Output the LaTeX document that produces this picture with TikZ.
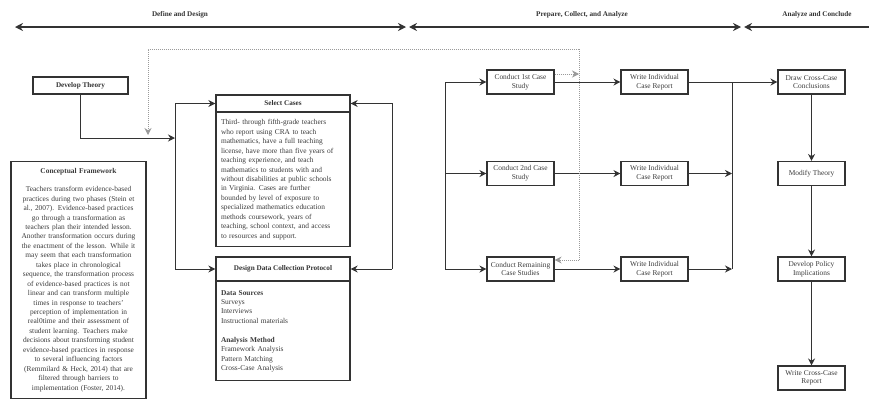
\documentclass[tikz,border=0pt]{standalone}
\usepackage{fontspec}
\setmainfont{Liberation Serif}
\usetikzlibrary{arrows.meta}
\definecolor{fdline}{HTML}{333333}
\definecolor{fdtext}{HTML}{3A3A3A}
\definecolor{fddot}{HTML}{9A9A9A}
\tikzset{
  box/.style={draw=fdline, line width=1.1pt, inner sep=1pt, minimum width=67pt,
    minimum height=24pt, align=center, text=fdtext, font=\fontsize{7.4}{8.6}\selectfont},
  headbox/.style={draw=fdline, line width=1.3pt, inner sep=0pt, minimum height=17pt,
    text=fdline, font=\fontsize{7.2}{8.6}\selectfont\bfseries},
  textbox/.style={draw=fdline, line width=1.3pt, inner xsep=5pt, text=fdtext,
    font=\fontsize{7.4}{9.45}\selectfont},
  conn/.style={draw=fdline, line width=1pt},
  arr/.style={conn, -{Stealth[length=7pt,width=7pt]}},
  dotline/.style={draw=fddot, line width=0.9pt, dash pattern=on 1pt off 1pt},
  dotarr/.style={dotline, -{Stealth[length=7pt,width=7pt]}},
  phase/.style={draw=fdline, line width=1.4pt,
    {Stealth[length=8pt,width=8pt]}-{Stealth[length=8pt,width=8pt]}},
  phaseopen/.style={draw=fdline, line width=1.4pt, {Stealth[length=8pt,width=8pt]}-},
  phaselabel/.style={text=fdline, font=\fontsize{7.2}{8}\selectfont\bfseries},
}
\begin{document}
\begin{tikzpicture}[x=1pt, y=-1pt]
    \useasboundingbox (0,0) rectangle (869,400);
    % fases
    \coordinate (p0) at (15,27);
    \coordinate (p1a) at (406,27);
    \coordinate (p1b) at (409,27);
    \coordinate (p2a) at (741,27);
    \coordinate (p2b) at (744,27);
    \coordinate (p3) at (869,27);
    \draw[phase] (p0) -- (p1a);
    \draw[phase] (p1b) -- (p2a);
    \draw[phaseopen] (p2b) -- (p3);
    \node[phaselabel] (ph1) at (180,15) {Define and Design};
    \node[phaselabel] (ph2) at (582,15) {Prepare, Collect, and Analyze};
    \node[phaselabel] (ph3) at (817,15) {Analyze and Conclude};
    % teoria e quadro conceitual
    \node[headbox, minimum width=95pt] (theory) at (80.5,85.5) {Develop Theory};
    \node[textbox, anchor=north, text width=125pt, minimum height=237pt, align=center]
      (cframe) at (78.5,161) {{\bfseries Conceptual Framework}\\[8.5pt]
      Teachers transform evidence-based\\
      practices during two phases (Stein et\\
      al., 2007). Evidence-based practices\\
      go through a transformation as\\
      teachers plan their intended lesson.\\
      Another transformation occurs during\\
      the enactment of the lesson. While it\\
      may seem that each transformation\\
      takes place in chronological\\
      sequence, the transformation process\\
      of evidence-based practices is not\\
      linear and can transform multiple\\
      times in response to teachers'\\
      perception of implementation in\\
      real0time and their assessment of\\
      student learning. Teachers make\\
      decisions about transforming student\\
      evidence-based practices in response\\
      to several influencing factors\\
      (Remmilard \& Heck, 2014) that are\\
      filtered through barriers to\\
      implementation (Foster, 2014).};
    % selecao de casos
    \node[headbox, minimum width=134pt] (selhead) at (283,103.5) {Select Cases};
    \node[textbox, anchor=north, text width=124pt, minimum height=134pt, align=left]
      (selbody) at (283,112) {Third- through fifth-grade teachers\\
      who report using CRA to teach\\
      mathematics, have a full teaching\\
      license, have more than five years of\\
      teaching experience, and teach\\
      mathematics to students with and\\
      without disabilities at public schools\\
      in Virginia. Cases are further\\
      bounded by level of exposure to\\
      specialized mathematics education\\
      methods coursework, years of\\
      teaching, school context, and access\\
      to resources and support.};
    % protocolo
    \node[headbox, minimum width=134pt, minimum height=24pt] (deshead) at (283,269)
      {Design Data Collection Protocol};
    \node[textbox, anchor=north, text width=124pt, minimum height=99pt, align=left]
      (desbody) at (283,281) {{\bfseries Data Sources}\\
      Surveys\\
      Interviews\\
      Instructional materials\\[9.45pt]
      {\bfseries Analysis Method}\\
      Framework Analysis\\
      Pattern Matching\\
      Cross-Case Analysis};
    % barras laterais
    \coordinate (lbx) at (175,0);
    \coordinate (rbx) at (392,0);
    \coordinate (lbin) at (175,138);
    \draw[arr] (theory.south) |- (lbin);
    \draw[arr] (lbx |- deshead.west) -- (lbx |- selhead.west) -- (selhead.west);
    \draw[arr] (lbx |- deshead.west) -- (deshead.west);
    \draw[arr] (rbx |- deshead.east) -- (rbx |- selhead.east) -- (selhead.east);
    \draw[arr] (rbx |- deshead.east) -- (deshead.east);
    % estudos de caso e relatorios
    \foreach \n/\y/\case in {1/82/{Conduct 1st Case\\Study}, 2/173.5/{Conduct 2nd Case\\Study},
      3/269/{Conduct Remaining\\Case Studies}} {
      \node[box] (case\n) at (520.5,\y) {\case};
      \node[box] (rep\n) at (654.5,\y) {Write Individual\\Case Report};
      \draw[arr] (case\n) -- (rep\n);
    }
    \coordinate (mbx) at (445,0);
    \draw[arr] (mbx |- case3.west) -- (mbx |- case1.west) -- (case1.west);
    \draw[arr] (mbx |- case2.west) -- (case2.west);
    \draw[arr] (mbx |- case3.west) -- (case3.west);
    % conclusoes
    \foreach \n/\y/\txt in {concl/82/{Draw Cross-Case\\Conclusions}, modify/173.5/{Modify Theory},
      policy/269/{Develop Policy\\Implications}, xreport/378/{Write Cross-Case\\Report}}
      \node[box] (\n) at (811.5,\y) {\txt};
    \coordinate (qbx) at (732,0);
    \draw[conn] (qbx |- rep1.east) -- (qbx |- rep3.east);
    \draw[arr] (rep1) -- (concl);
    \draw[arr] (rep2) -- (qbx |- rep2.east);
    \draw[arr] (rep3) -- (qbx |- rep3.east);
    \draw[arr] (concl) -- (modify);
    \draw[arr] (modify) -- (policy);
    \draw[arr] (policy) -- (xreport);
    % retorno pontilhado
    \coordinate (dtl) at (148,49);
    \coordinate (dtr) at (579,49);
    \coordinate (dmid) at (579,74);
    \coordinate (dbr) at (579,260);
    \coordinate (dend) at (148,135);
    \draw[dotline] (dtr) -- (dbr);
    \draw[dotarr] (dtr) -- (dtl) -- (dend);
    \draw[dotarr] ([yshift=8pt]case1.east) -- (dmid);
    \draw[dotarr] (dbr) -- (dbr -| case3.east);
\end{tikzpicture}
\end{document}
